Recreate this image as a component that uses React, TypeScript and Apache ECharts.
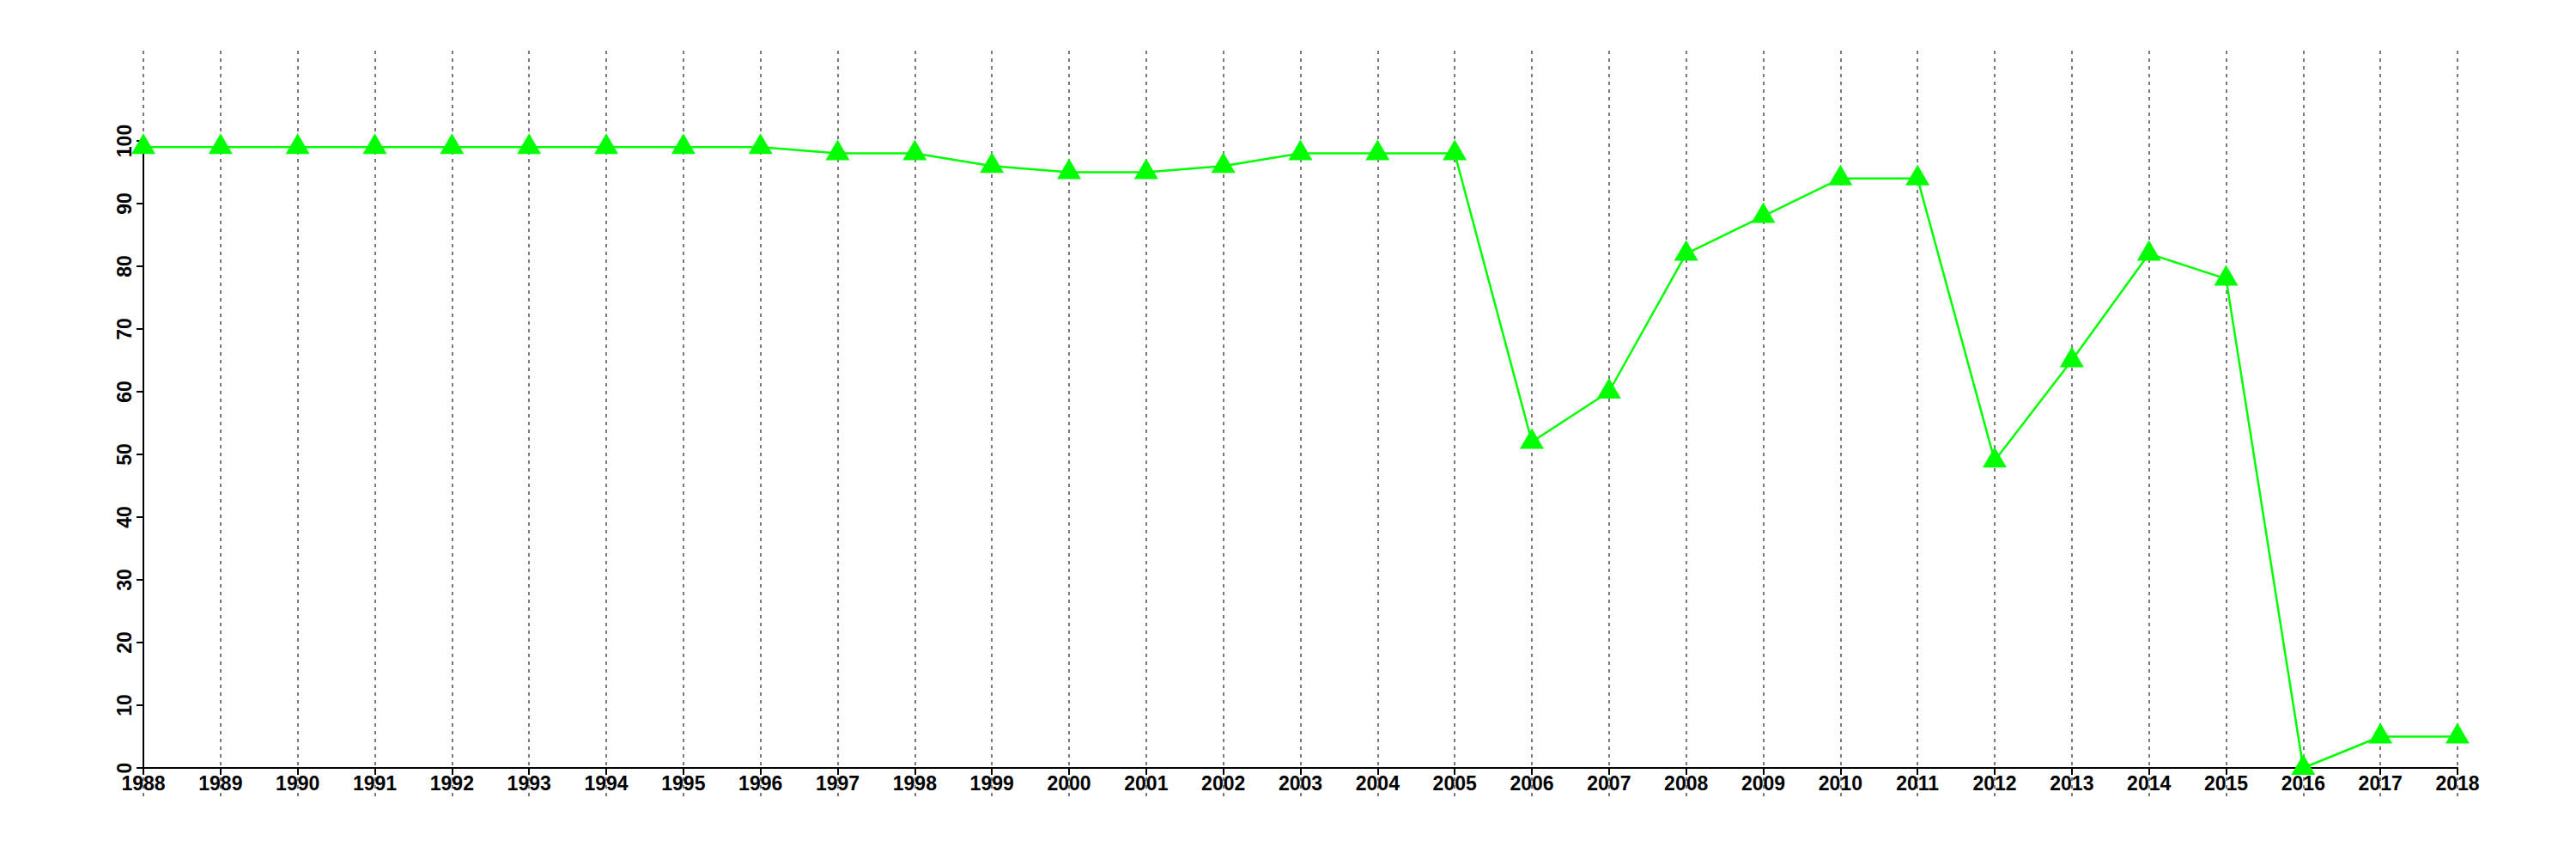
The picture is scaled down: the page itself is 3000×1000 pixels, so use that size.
import React, { useEffect, useRef } from "react";
import * as echarts from "echarts";

const years: number[] = [
  1988, 1989, 1990, 1991, 1992, 1993, 1994, 1995, 1996, 1997, 1998, 1999, 2000,
  2001, 2002, 2003, 2004, 2005, 2006, 2007, 2008, 2009, 2010, 2011, 2012, 2013,
  2014, 2015, 2016, 2017, 2018,
];
const values: number[] = [
  99, 99, 99, 99, 99, 99, 99, 99, 99, 98, 98, 96, 95, 95, 96, 98, 98, 98, 52,
  60, 82, 88, 94, 94, 49, 65, 82, 78, 0, 5, 5,
];
const yMin = 0;
const yMax = 100;
const yStep = 10;
const xMin = 1988;
const xMax = 2018;

const FONT = "'Liberation Sans', Arial, Helvetica, sans-serif";

export default function App() {
  const ref = useRef<HTMLDivElement>(null);
  useEffect(() => {
    if (!ref.current) return;
    const chart = echarts.init(ref.current, null, { renderer: "svg" });
    const data = years.map((y, i) => [y, values[i]]);
    chart.setOption({
      animation: false,
      backgroundColor: "#ffffff",
      grid: [
        { left: 167, right: 138, top: 59, bottom: 73, containLabel: false },
        { left: 167, right: 138, top: 164, bottom: 106, containLabel: false },
      ],
      xAxis: [
        {
          type: "value",
          gridIndex: 0,
          min: xMin,
          max: xMax,
          interval: 1,
          axisLine: { show: false },
          axisTick: { show: false },
          axisLabel: { show: false },
          splitLine: {
            show: true,
            lineStyle: { color: "#7a7a7a", width: 2, type: [4, 5] },
          },
        },
        {
          type: "value",
          gridIndex: 1,
          min: xMin,
          max: xMax,
          interval: 1,
          axisLine: { show: true, onZero: false, lineStyle: { color: "#000", width: 2 } },
          axisTick: { show: true, length: 8, lineStyle: { color: "#000", width: 2 } },
          axisLabel: {
            show: true,
            margin: 6,
            color: "#000",
            fontSize: 23,
            fontWeight: "bold",
            fontFamily: FONT,
            formatter: (v: number) => String(v),
          },
          splitLine: { show: false },
        },
      ],
      yAxis: [
        {
          type: "value",
          gridIndex: 0,
          min: 0,
          max: 1,
          show: false,
          splitLine: { show: false },
        },
        {
          type: "value",
          gridIndex: 1,
          min: yMin,
          max: yMax,
          interval: yStep,
          axisLine: { show: true, lineStyle: { color: "#000", width: 2 } },
          axisTick: { show: true, length: 8, lineStyle: { color: "#000", width: 2 } },
          axisLabel: {
            show: true,
            rotate: 90,
            margin: 11,
            color: "#000",
            fontSize: 23,
            fontWeight: "bold",
            fontFamily: FONT,
          },
          splitLine: { show: false },
        },
      ],
      series: [
        {
          type: "line",
          xAxisIndex: 1,
          yAxisIndex: 1,
          data,
          clip: false,
          symbol: "triangle",
          symbolSize: [28, 24],
          symbolOffset: [0, -4],
          showAllSymbol: true,
          itemStyle: { color: "#00ff00" },
          lineStyle: { color: "#00ff00", width: 2.5 },
          z: 5,
        },
      ],
    });
    return () => chart.dispose();
  }, []);
  return (
    <div
      ref={ref}
      style={{ position: "fixed", left: 0, top: 0, width: 3000, height: 1000, background: "#fff" }}
    />
  );
}
